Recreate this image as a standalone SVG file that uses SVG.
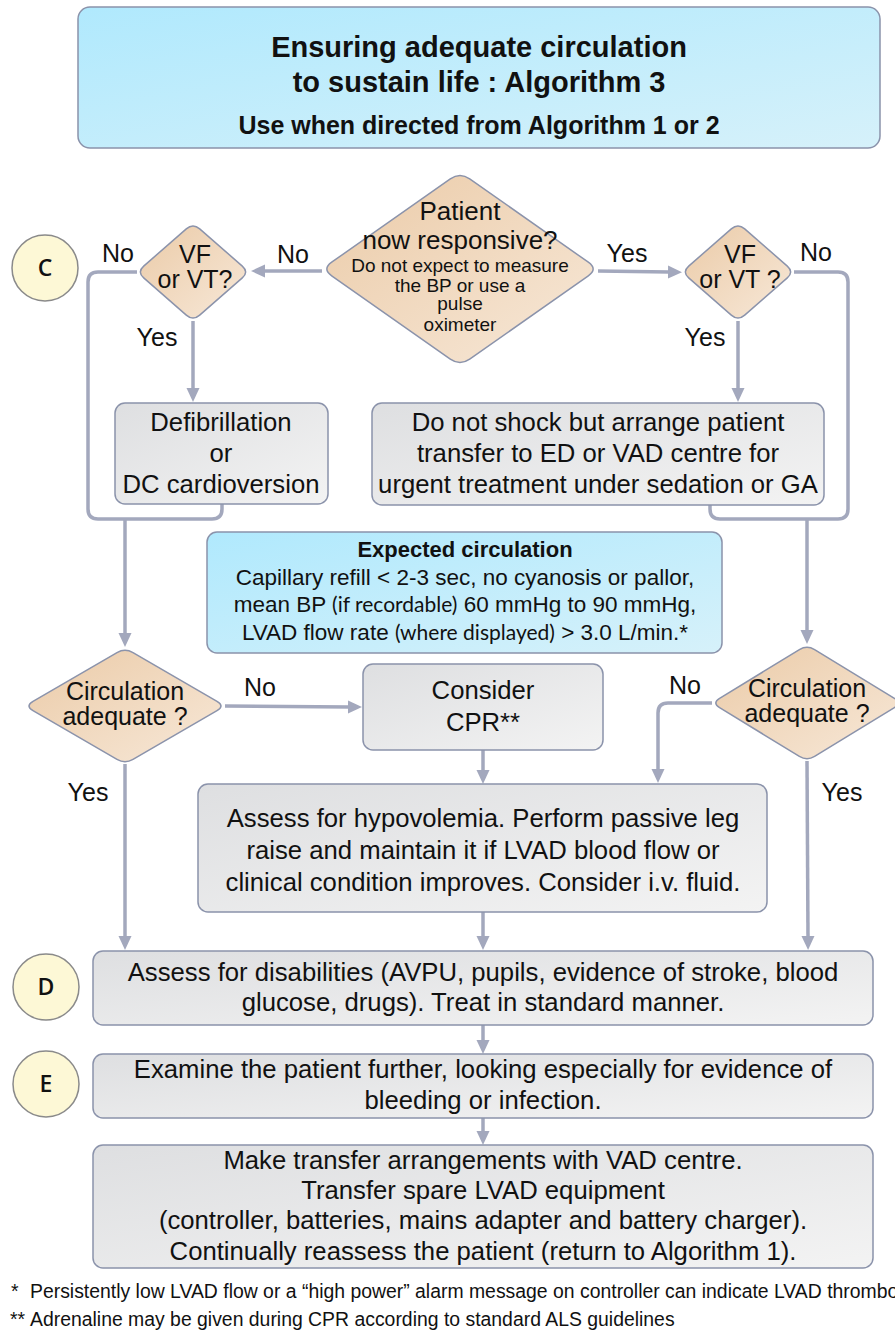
<svg xmlns="http://www.w3.org/2000/svg" width="895" height="1332" viewBox="0 0 895 1332">
<defs>
<linearGradient id="gBlue" x1="0" y1="0" x2="1" y2="1"><stop offset="0" stop-color="#b0e9fd"/><stop offset="1" stop-color="#d6f1fa"/></linearGradient>
<linearGradient id="gGray" x1="0" y1="0" x2="1" y2="1"><stop offset="0" stop-color="#dedfe1"/><stop offset="1" stop-color="#f3f3f3"/></linearGradient>
<linearGradient id="gPeach" x1="0" y1="0" x2="1" y2="1"><stop offset="0" stop-color="#ebcba8"/><stop offset="1" stop-color="#f7e8d8"/></linearGradient>
<marker id="arr" markerUnits="userSpaceOnUse" markerWidth="14" markerHeight="14" refX="1" refY="7" orient="auto"><path d="M0,0.5 L14,7 L0,13.5 z" fill="#a3a8bd"/></marker>
</defs>
<style>
.box{fill:url(#gGray);stroke:#8b93ab;stroke-width:1.5}
.blue{fill:url(#gBlue);stroke:#8b93ab;stroke-width:1.5}
.dia{fill:url(#gPeach);stroke:#8b93ab;stroke-width:1.5}
.circ{fill:#fdf8d6;stroke:#8a8a8a;stroke-width:1.5}
.con{fill:none;stroke:#a3a8bd;stroke-width:3.5}
.arrow{marker-end:url(#arr)}
text{font-family:"Liberation Sans",Arial,sans-serif;fill:#111;text-anchor:middle}
.t{font-size:25.7px}
.lbl{font-size:25px}
.sm{font-size:19px}
.ex{font-size:22.5px}
.par{font-family:Lato,"Open Sans",sans-serif;font-size:21px}
.ttl{font-weight:bold}
.cl{font-family:"Open Sans",sans-serif;font-weight:600;font-size:23px}
.fn{font-size:19.4px;text-anchor:start}
</style>

<g id="title">
<rect class="blue" x="78" y="7" width="802" height="141" rx="12"/>
<text class="ttl" x="479" y="57" font-size="29">Ensuring adequate circulation</text>
<text class="ttl" x="479" y="92" font-size="29">to sustain life : Algorithm 3</text>
<text class="ttl" x="479" y="134" font-size="25">Use when directed from Algorithm 1 or 2</text>
</g>

<g id="circleC"><circle class="circ" cx="45" cy="268" r="33"/><text class="cl" x="45" y="276">C</text></g>
<g id="circleD"><circle class="circ" cx="46" cy="987" r="33"/><text class="cl" x="46" y="995">D</text></g>
<g id="circleE"><circle class="circ" cx="46" cy="1084" r="33"/><text class="cl" x="46" y="1092">E</text></g>

<g id="connectors">
<path class="con arrow" d="M322,271 L264,271"/>
<path class="con" d="M137,272 L98,272 Q88,272 88,282 L88,509 Q88,519 98,519 L212,519 Q222,519 222,509 L222,504"/>
<path class="con arrow" d="M193,321 L193,389"/>
<path class="con arrow" d="M598,271 L669,272"/>
<path class="con" d="M794,272 L838,272 Q848,272 848,282 L848,509 Q848,519 838,519 L720,519 Q710,519 710,509 L710,505"/>
<path class="con arrow" d="M738,321 L738,389"/>
<path class="con arrow" d="M125,519 L125,634"/>
<path class="con arrow" d="M807,519 L807,631"/>
<path class="con arrow" d="M225,706 L349,707"/>
<path class="con arrow" d="M125,764 L125,937"/>
<path class="con arrow" d="M712,703 L668,703 Q658,703 658,713 L658,770"/>
<path class="con arrow" d="M807,761 L808,937"/>
<path class="con arrow" d="M483,750 L483,771"/>
<path class="con arrow" d="M483,912 L483,937"/>
<path class="con arrow" d="M483,1025 L483,1041"/>
<path class="con arrow" d="M483,1118 L483,1132"/>
<text class="lbl" x="293" y="263">No</text>
<text class="lbl" x="118" y="262">No</text>
<text class="lbl" x="157" y="346">Yes</text>
<text class="lbl" x="627" y="262">Yes</text>
<text class="lbl" x="816" y="261">No</text>
<text class="lbl" x="705" y="346">Yes</text>
<text class="lbl" x="260" y="696">No</text>
<text class="lbl" x="88" y="801">Yes</text>
<text class="lbl" x="685" y="694">No</text>
<text class="lbl" x="842" y="801">Yes</text>
</g>

<g id="responsive">
<path class="dia" d="M469.7,178.8 L588.3,262.2 Q598,269 588.3,275.8 L469.7,359.2 Q460,366 450.3,359.2 L331.7,275.8 Q322,269 331.7,262.2 L450.3,178.8 Q460,172 469.7,178.8Z"/>
<text x="460" y="220" font-size="26">Patient</text>
<text x="460" y="249" font-size="26">now responsive?</text>
<text class="sm" x="460" y="272">Do not expect to measure</text>
<text class="sm" x="460" y="292">the BP or use a</text>
<text class="sm" x="460" y="310">pulse</text>
<text class="sm" x="460" y="331">oximeter</text>
</g>

<g id="vfLeft">
<path class="dia" d="M199.7,228.9 L242.3,266.1 Q249,272 242.3,277.9 L199.7,315.1 Q193,321 186.3,315.1 L143.7,277.9 Q137,272 143.7,266.1 L186.3,228.9 Q193,223 199.7,228.9Z"/>
<text class="lbl" x="195" y="263">VF</text>
<text class="lbl" x="195" y="288">or VT?</text>
</g>

<g id="vfRight">
<path class="dia" d="M744.7,228.9 L787.3,266.1 Q794,272 787.3,277.9 L744.7,315.1 Q738,321 731.3,315.1 L688.7,277.9 Q682,272 688.7,266.1 L731.3,228.9 Q738,223 744.7,228.9Z"/>
<text class="lbl" x="740" y="263">VF</text>
<text class="lbl" x="740" y="288">or VT ?</text>
</g>

<g id="defib">
<rect class="box" x="115" y="403" width="213" height="101" rx="10"/>
<text class="t" x="221" y="431">Defibrillation</text>
<text class="t" x="221" y="462">or</text>
<text class="t" x="221" y="493">DC cardioversion</text>
</g>

<g id="transfer">
<rect class="box" x="372" y="403" width="452" height="102" rx="10"/>
<text class="t" x="598" y="431">Do not shock but arrange patient</text>
<text class="t" x="598" y="462">transfer to ED or VAD centre for</text>
<text class="t" x="598" y="493">urgent treatment under sedation or GA</text>
</g>

<g id="expected">
<rect class="blue" x="207" y="532" width="515" height="121" rx="10"/>
<text class="ttl" x="465" y="557" font-size="22">Expected circulation</text>
<text class="ex" x="465" y="585">Capillary refill &lt; 2-3 sec, no cyanosis or pallor,</text>
<text class="ex" x="465" y="612">mean BP <tspan class="par">(if recordable)</tspan> 60 mmHg to 90 mmHg,</text>
<text class="ex" x="465" y="640">LVAD flow rate <tspan class="par">(where displayed)</tspan> &gt; 3.0 L/min.*</text>
</g>

<g id="circLeft">
<path class="dia" d="M133,652.6 L217,701.4 Q225,706 217,710.6 L133,759.4 Q125,764 117,759.4 L33,710.6 Q25,706 33,701.4 L117,652.6 Q125,648 133,652.6Z"/>
<text class="lbl" x="125" y="700">Circulation</text>
<text class="lbl" x="125" y="725">adequate ?</text>
</g>

<g id="circRight">
<path class="dia" d="M814.6,649.6 L894.4,698.4 Q902,703 894.4,707.6 L814.6,756.4 Q807,761 799.4,756.4 L719.6,707.6 Q712,703 719.6,698.4 L799.4,649.6 Q807,645 814.6,649.6Z"/>
<text class="lbl" x="807" y="697">Circulation</text>
<text class="lbl" x="807" y="722">adequate ?</text>
</g>

<g id="cpr">
<rect class="box" x="363" y="664" width="240" height="86" rx="10"/>
<text class="t" x="483" y="699">Consider</text>
<text class="t" x="483" y="731">CPR**</text>
</g>

<g id="hypovolemia">
<rect class="box" x="198" y="784" width="569" height="128" rx="10"/>
<text class="t" x="483" y="827">Assess for hypovolemia. Perform passive leg</text>
<text class="t" x="483" y="859">raise and maintain it if LVAD blood flow or</text>
<text class="t" x="483" y="891">clinical condition improves. Consider i.v. fluid.</text>
</g>

<g id="disabilities">
<rect class="box" x="93" y="951" width="780" height="74" rx="10"/>
<text class="t" x="483" y="981">Assess for disabilities (AVPU, pupils, evidence of stroke, blood</text>
<text class="t" x="483" y="1011">glucose, drugs). Treat in standard manner.</text>
</g>

<g id="examine">
<rect class="box" x="93" y="1054" width="780" height="64" rx="10"/>
<text class="t" x="483" y="1078">Examine the patient further, looking especially for evidence of</text>
<text class="t" x="483" y="1109">bleeding or infection.</text>
</g>

<g id="transferFinal">
<rect class="box" x="93" y="1145" width="780" height="123" rx="10"/>
<text class="t" x="483" y="1169">Make transfer arrangements with VAD centre.</text>
<text class="t" x="483" y="1199">Transfer spare LVAD equipment</text>
<text class="t" x="483" y="1229">(controller, batteries, mains adapter and battery charger).</text>
<text class="t" x="483" y="1260">Continually reassess the patient (return to Algorithm 1).</text>
</g>

<g id="footnotes">
<text class="fn" x="11" y="1298">*</text>
<text class="fn" x="30" y="1298">Persistently low LVAD flow or a “high power” alarm message on controller can indicate LVAD thrombo</text>
<text class="fn" x="10" y="1326">**</text>
<text class="fn" x="30" y="1326">Adrenaline may be given during CPR according to standard ALS guidelines</text>
</g>
</svg>
